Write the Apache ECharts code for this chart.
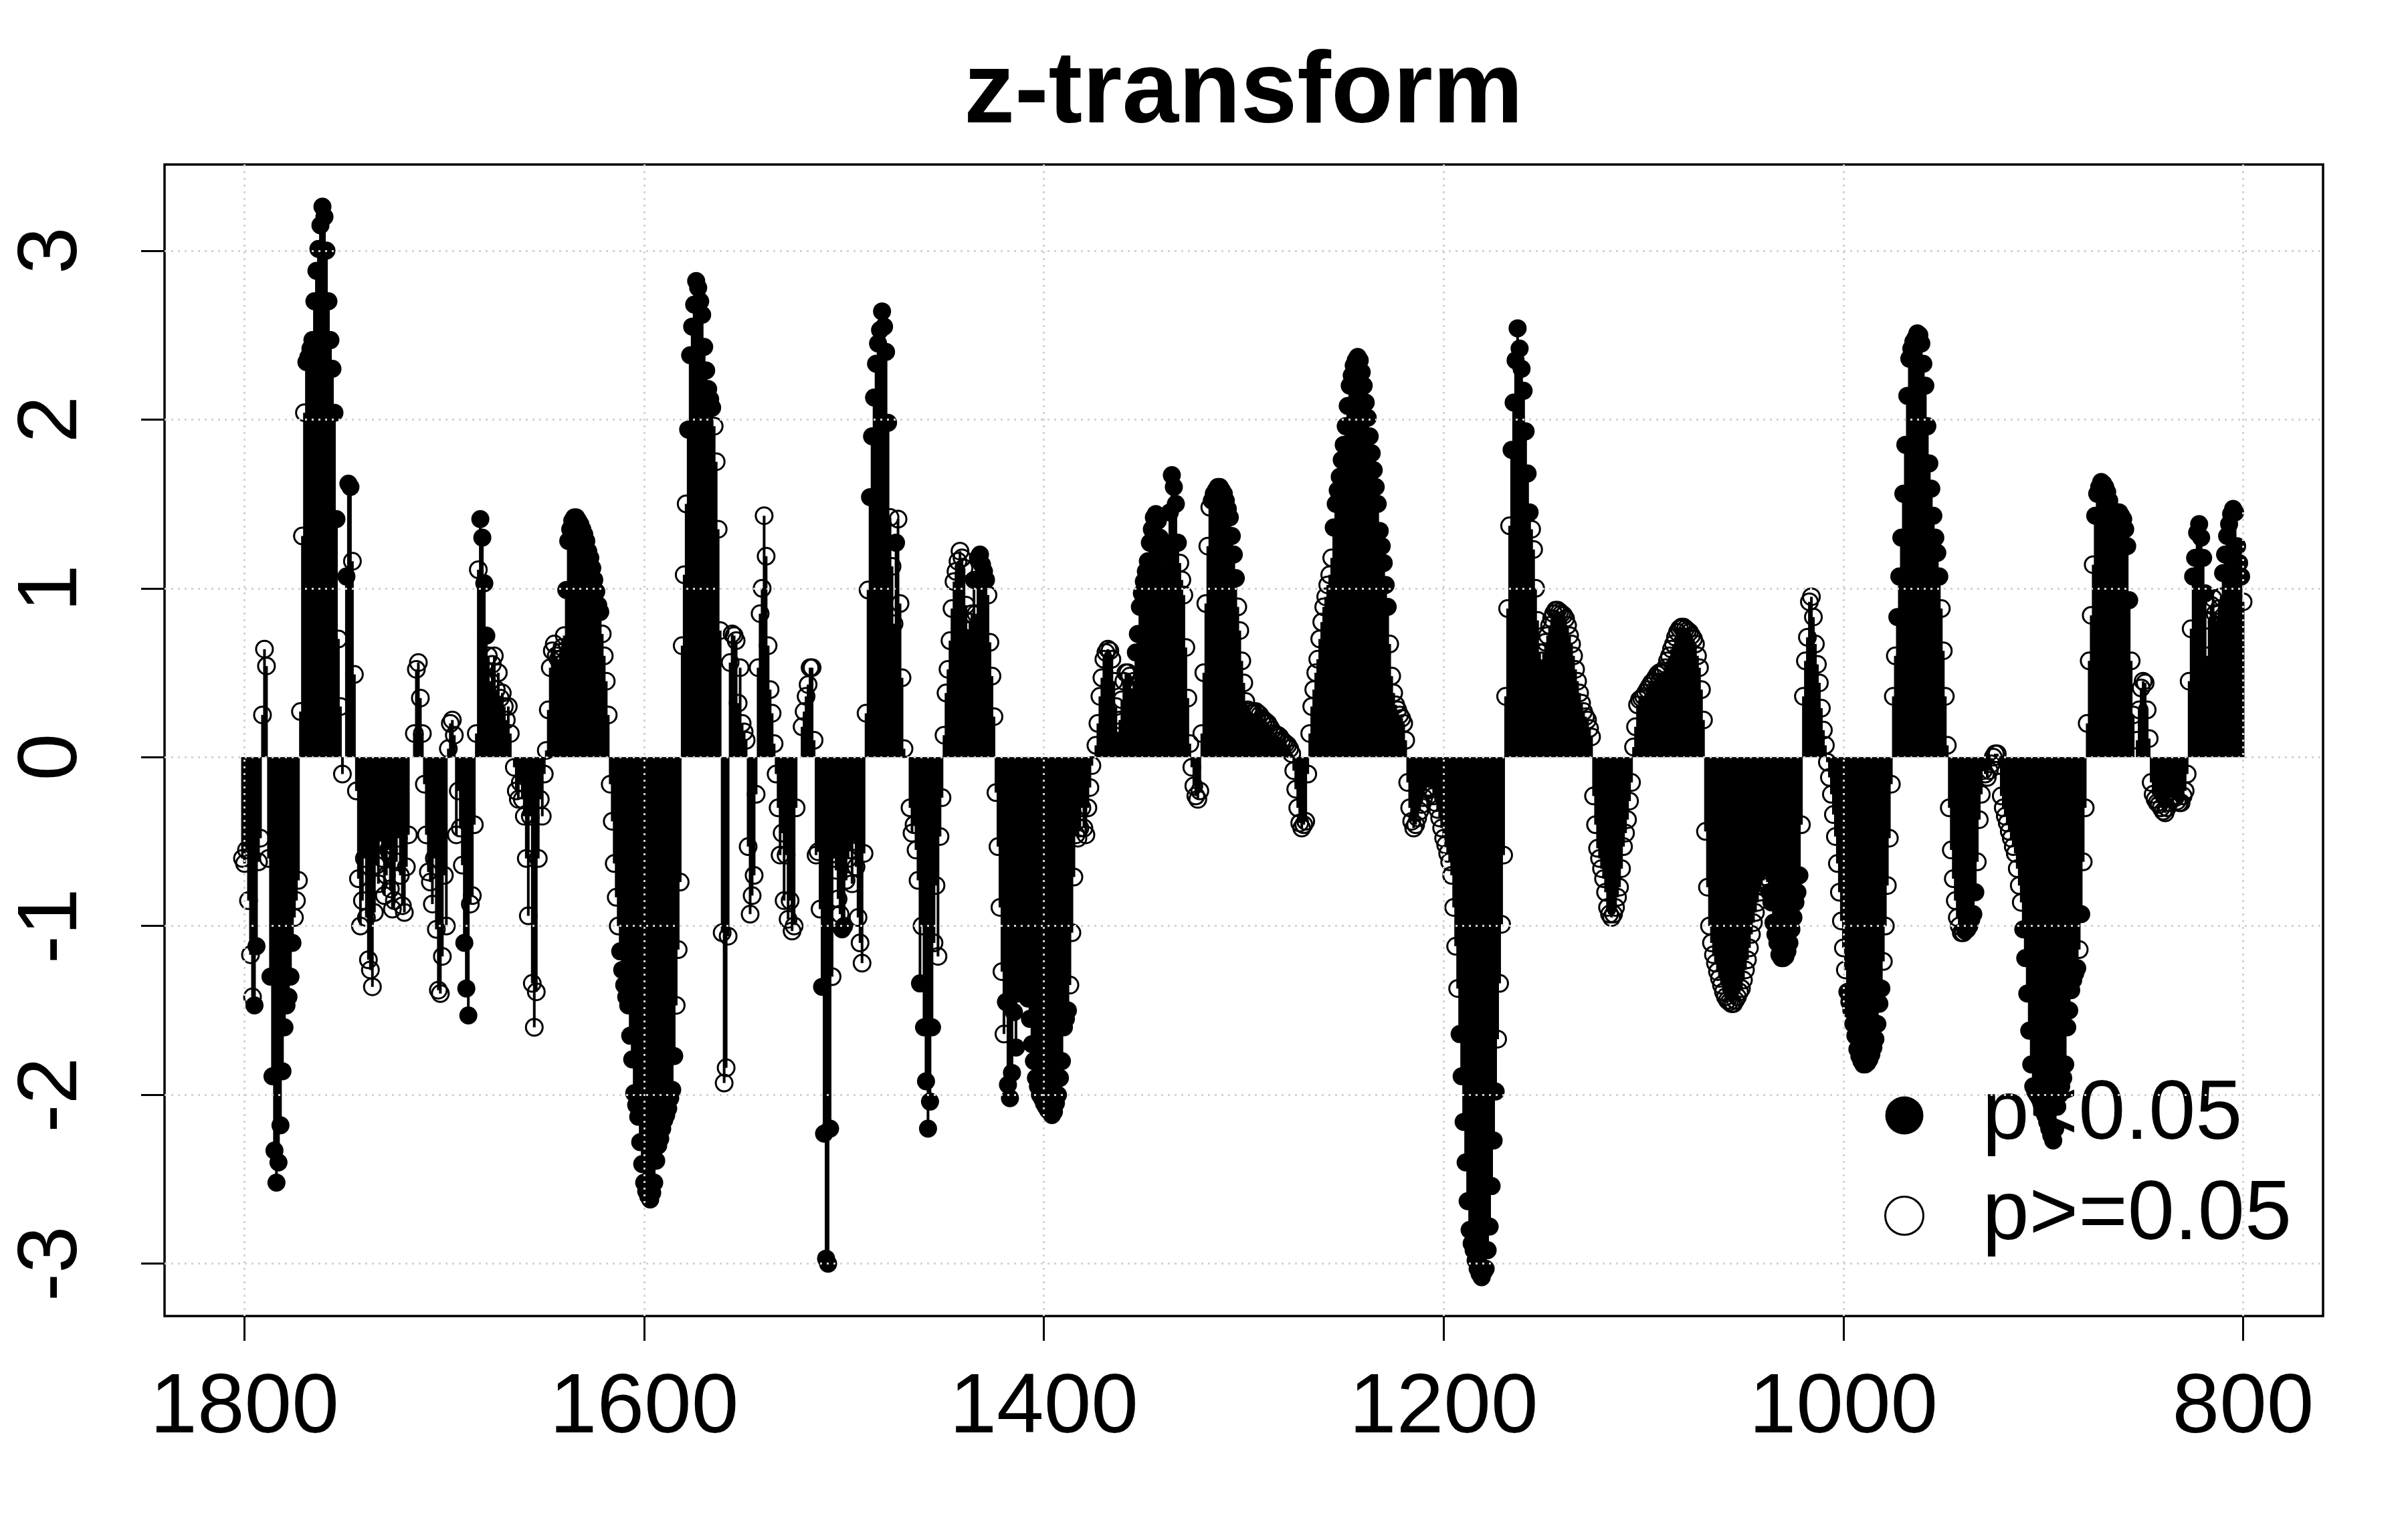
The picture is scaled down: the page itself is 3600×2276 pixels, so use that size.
<!DOCTYPE html>
<html>
<head>
<meta charset="utf-8">
<script src="https://cdn.jsdelivr.net/npm/echarts@6/dist/echarts.min.js"></script>
<style>
html,body{margin:0;padding:0;background:#fff;}
#chart{width:3600px;height:2276px;}
</style>
</head>
<body>
<div id="chart"></div>
<script>
// ---- data ----
const titleText = 'z-transform';
const firstYear = 1801;            // zValues[i] belongs to year firstYear - i
const zValues = [
 -0.60,-0.63,-0.55,-0.85,-1.17,-1.42,-1.47,-1.12,-0.62,-0.48, // 1801
 0.25,0.64,0.54,-0.60,-1.30,-1.89,-2.33,-2.52,-2.40,-2.18,    // 1791
 -1.86,-1.60,-1.47,-1.42,-1.30,-1.10,-0.95,-0.85,-0.73,0.27,  // 1781
 1.31,2.04,2.34,2.37,2.42,2.47,2.70,2.88,3.01,3.15,           // 1771
 3.26,3.20,3.00,2.70,2.47,2.30,2.04,1.41,0.70,0.30,           // 1761
 -0.10,null,1.07,1.62,1.60,1.16,0.49,-0.20,-0.72,-1.00,       // 1751
 -0.85,-0.60,-0.95,-1.20,-1.26,-1.36,-0.92,-0.64,-0.75,-0.50, // 1741
 -0.60,-0.82,-0.70,-0.55,-0.78,-0.90,-0.85,-0.62,-0.48,-0.70, // 1731
 -0.88,-0.92,-0.65,-0.46,null,null,0.14,0.52,0.56,0.35,       // 1721
 0.14,-0.16,-0.46,-0.68,-0.74,-0.87,-0.60,-1.02,-1.38,-1.40,  // 1711
 -1.18,-0.70,-1.00,0.05,0.20,0.22,0.13,-0.46,-0.20,-0.42,     // 1701
 -0.64,-1.10,-1.37,-1.53,-0.87,-0.82,-0.40,0.14,1.11,1.41,    // 1691
 1.30,1.03,0.72,0.60,0.45,0.55,0.60,0.40,0.50,0.35,           // 1681
 0.38,0.30,0.22,0.30,0.14,null,-0.06,-0.20,-0.25,-0.15,       // 1671
 -0.25,-0.35,-0.60,-0.94,-0.35,-1.34,-1.60,-1.39,-0.60,-0.25, // 1661
 -0.35,-0.10,0.04,0.28,0.53,0.63,0.67,0.60,0.58,0.62,         // 1651
 0.65,0.72,0.99,1.28,1.35,1.40,1.42,1.42,1.40,1.38,           // 1641
 1.35,1.32,1.28,1.22,1.18,1.12,1.05,0.98,0.90,0.86,           // 1631
 0.73,0.60,0.45,0.25,-0.16,-0.38,-0.63,-0.83,-1.00,-1.15,     // 1621
 -1.26,-1.35,-1.42,-1.47,-1.65,-1.79,-1.99,-2.06,-2.13,-2.28, // 1611
 -2.41,-2.52,-2.57,-2.60,-2.62,-2.58,-2.52,-2.39,-2.30,-2.26, // 1601
 -2.20,-2.15,-2.12,-2.08,-2.02,-1.97,-1.77,-1.47,-1.14,-0.74, // 1591
 0.66,1.08,1.50,1.94,2.38,2.55,2.68,2.82,2.78,2.70,           // 1581
 2.62,2.43,2.29,2.18,2.12,2.07,1.96,1.75,1.35,0.75,           // 1571
 -1.04,-1.93,-1.84,-1.06,0.56,0.73,0.72,0.69,0.32,0.53,       // 1561
 0.20,0.15,0.10,-0.53,-0.93,-0.82,-0.70,-0.22,0.53,0.85,      // 1551
 1.00,1.43,1.19,0.66,0.40,0.26,0.08,-0.10,-0.30,-0.58,        // 1541
 -0.45,-0.85,-0.58,-0.96,-0.85,-1.03,-1.00,-0.30,null,null,   // 1531
 0.18,0.27,0.36,0.43,0.53,0.53,0.10,-0.58,-0.56,-0.90,        // 1521
 -1.36,-2.23,-2.97,-3.00,-2.20,-1.30,-0.60,-0.67,-0.84,-0.93, // 1511
 -1.02,-1.00,-0.73,-0.60,-0.55,-0.75,-0.50,-0.65,-0.95,-1.10, // 1501
 -1.22,-0.57,0.26,0.99,1.54,1.90,2.13,2.33,2.45,2.53,         // 1491
 2.64,2.55,2.40,1.98,1.42,1.13,0.79,1.27,1.41,0.91,           // 1481
 0.47,0.05,null,null,-0.30,-0.45,-0.40,-0.55,-0.73,-1.34,     // 1471
 -1.00,-1.60,-1.92,-2.20,-2.04,-1.60,-1.10,-0.76,-1.18,-0.47, // 1461
 -0.24,0.13,0.38,0.52,0.69,0.88,1.04,1.10,1.16,1.22,          // 1451
 1.18,1.12,0.90,0.75,0.80,0.85,1.05,0.85,1.18,1.20,           // 1441
 1.14,1.10,1.05,0.96,0.68,0.48,0.24,-0.21,-0.53,-0.89,        // 1431
 -1.27,-1.64,-1.45,-1.94,-2.02,-1.87,-1.51,-1.72,-1.40,-1.35, // 1421
 -1.30,-1.36,-1.38,-1.43,-1.55,-1.70,-1.80,-1.90,-1.95,-2.00, // 1411
 -2.02,-2.05,-2.07,-2.09,-2.10,-2.12,-2.10,-2.05,-2.00,-1.90, // 1401
 -1.80,-1.60,-1.55,-1.50,-1.35,-1.04,-0.71,-0.46,-0.48,-0.42, // 1391
 -0.30,-0.42,-0.46,-0.30,-0.18,-0.05,null,0.07,0.20,0.36,     // 1381
 0.47,0.58,0.62,0.64,0.63,0.58,0.45,0.30,0.15,0.22,           // 1371
 0.34,0.45,0.50,0.50,0.48,0.40,0.45,0.62,0.73,0.89,           // 1361
 0.97,1.04,1.10,1.16,1.27,1.35,1.42,1.44,1.40,1.30,           // 1351
 1.20,1.08,1.10,1.25,1.45,1.67,1.60,1.50,1.27,1.15,           // 1341
 1.05,0.96,0.65,0.35,0.08,-0.06,-0.17,-0.23,-0.25,-0.20,      // 1331
 0.14,0.50,0.91,1.25,1.48,1.52,1.56,1.58,1.60,1.60,           // 1321
 1.58,1.56,1.52,1.47,1.42,1.31,1.20,1.06,0.89,0.75,           // 1311
 0.57,0.44,0.33,0.28,0.27,0.26,0.26,0.27,0.26,0.25,           // 1301
 0.23,0.22,0.21,0.20,0.18,0.16,0.14,0.13,0.13,0.12,           // 1291
 0.10,0.09,0.08,0.07,0.05,0.02,-0.08,-0.19,-0.30,-0.39,       // 1281
 -0.42,-0.40,-0.38,-0.10,0.14,0.30,0.40,0.50,0.58,0.70,       // 1271
 0.80,0.89,0.95,1.02,1.08,1.18,1.36,1.50,1.58,1.66,           // 1261
 1.76,1.85,1.96,2.08,2.20,2.26,2.32,2.35,2.37,2.35,           // 1251
 2.28,2.20,2.10,2.01,1.90,1.80,1.70,1.60,1.50,1.34,           // 1241
 1.25,1.15,1.02,0.89,0.67,0.48,0.38,0.31,0.28,0.25,           // 1231
 0.23,0.20,0.10,-0.15,-0.30,-0.38,-0.42,-0.40,-0.36,-0.32,    // 1221
 -0.28,-0.24,-0.20,-0.18,-0.18,-0.19,-0.23,-0.27,-0.31,-0.36, // 1211
 -0.42,-0.48,-0.52,-0.57,-0.62,-0.70,-0.89,-1.12,-1.37,-1.64, // 1201
 -1.89,-2.16,-2.40,-2.63,-2.80,-2.88,-2.92,-2.98,-3.03,-3.06, // 1191
 -3.08,-3.05,-3.03,-2.92,-2.78,-2.54,-2.27,-1.98,-1.67,-1.34, // 1181
 -0.99,-0.58,0.36,0.88,1.37,1.82,2.10,2.35,2.54,2.42,         // 1171
 2.30,2.17,1.93,1.68,1.45,1.35,1.23,1.00,0.81,0.62,           // 1161
 0.57,0.62,0.68,0.72,0.78,0.82,0.85,0.87,0.87,0.86,           // 1151
 0.85,0.84,0.82,0.78,0.72,0.67,0.60,0.52,0.45,0.38,           // 1141
 0.32,0.27,0.24,0.22,0.17,0.12,-0.23,-0.40,-0.54,-0.60,       // 1131
 -0.66,-0.72,-0.80,-0.89,-0.93,-0.95,-0.93,-0.89,-0.83,-0.77, // 1121
 -0.66,-0.53,-0.45,-0.37,-0.26,-0.15,0.06,0.18,0.31,0.34,     // 1111
 0.35,0.36,0.38,0.40,0.42,0.44,0.45,0.47,0.49,0.50,           // 1101
 0.50,0.51,0.53,0.57,0.60,0.64,0.67,0.71,0.74,0.76,           // 1091
 0.77,0.77,0.76,0.75,0.74,0.72,0.70,0.67,0.60,0.53,           // 1081
 0.40,0.22,-0.44,-0.77,-1.00,-1.10,-1.17,-1.22,-1.27,-1.31,   // 1071
 -1.35,-1.39,-1.42,-1.44,-1.45,-1.46,-1.46,-1.44,-1.42,-1.39, // 1061
 -1.37,-1.32,-1.26,-1.20,-1.13,-1.05,-0.98,-0.92,-0.86,-0.80, // 1051
 -0.76,-0.73,-0.71,-0.74,-0.80,-0.86,-0.98,-1.05,-1.10,-1.17, // 1041
 -1.19,-1.19,-1.18,-1.15,-1.10,-1.02,-0.95,-0.86,-0.80,-0.70, // 1031
 -0.40,0.36,0.57,0.71,0.92,0.95,0.83,0.67,0.55,0.44,          // 1021
 0.29,0.16,0.07,-0.03,-0.12,-0.22,-0.34,-0.47,-0.63,-0.80,    // 1011
 -0.97,-1.13,-1.26,-1.39,-1.45,-1.50,-1.58,-1.65,-1.73,-1.77, // 1001
 -1.80,-1.82,-1.82,-1.81,-1.79,-1.76,-1.72,-1.67,-1.58,-1.46, // 991
 -1.37,-1.21,-1.00,-0.76,-0.48,-0.16,0.36,0.60,0.83,1.07,     // 981
 1.30,1.56,1.85,2.14,2.36,2.42,2.46,2.48,2.51,2.50,           // 971
 2.45,2.33,2.20,1.96,1.74,1.59,1.43,1.30,1.21,1.07,           // 961
 0.88,0.63,0.36,0.07,-0.30,-0.55,-0.72,-0.85,-0.95,-1.00,     // 951
 -1.04,-1.04,-1.03,-1.02,-1.00,-0.96,-0.93,-0.80,-0.62,-0.37, // 941
 -0.22,-0.08,-0.10,-0.12,-0.08,-0.04,0.00,0.02,0.02,-0.05,    // 931
 -0.23,-0.30,-0.35,-0.39,-0.44,-0.48,-0.53,-0.57,-0.66,-0.76, // 921
 -0.86,-1.02,-1.19,-1.40,-1.62,-1.82,-1.95,-1.98,-2.00,-2.02, // 911
 -2.05,-2.08,-2.12,-2.16,-2.20,-2.24,-2.27,-2.20,-2.07,-2.00, // 901
 -1.95,-1.90,-1.82,-1.60,-1.50,-1.38,-1.32,-1.28,-1.25,-1.14, // 891
 -0.93,-0.62,-0.30,0.20,0.57,0.84,1.14,1.43,1.56,1.60,        // 881
 1.63,1.62,1.60,1.57,1.52,1.47,1.42,1.40,1.45,1.45,           // 871
 1.43,1.41,1.35,1.25,0.93,0.57,0.25,null,0.10,0.28,           // 861
 0.41,0.45,0.44,0.28,0.11,-0.15,-0.22,-0.25,-0.27,-0.28,      // 851
 -0.30,-0.32,-0.33,-0.30,-0.27,-0.24,-0.23,-0.24,-0.26,-0.27, // 841
 -0.27,-0.23,-0.20,-0.10,0.45,0.76,1.07,1.18,1.33,1.38,       // 831
 1.30,1.18,0.97,0.60,0.81,0.90,0.94,0.85,0.80,0.88,           // 821
 0.95,1.09,1.20,1.31,1.38,1.44,1.47,1.45,1.25,1.15,           // 811
 1.07,0.92                                                    // 801
];
// year spans (inclusive, from..to) whose points are drawn as p<0.05
const sigRanges = [
 [1795,1794],[1787,1776],[1769,1754],[1749,1747],[1690,1688],[1682,1679],
 [1639,1622],[1612,1585],[1578,1566],[1511,1507],[1501,1500],[1487,1478],
 [1474,1474],[1462,1462],[1460,1456],[1435,1435],[1433,1429],[1419,1388],
 [1354,1333],[1316,1304],[1255,1228],[1192,1174],[1166,1157],[1037,1022],
 [998,981],[973,952],[939,934],[910,883],[881,881],[874,857],[825,819],[810,801]
];
const xTicks = [1800, 1600, 1400, 1200, 1000, 800];
const yTicks = [-3, -2, -1, 0, 1, 2, 3];
const legendNames = ['p<0.05', 'p>=0.05'];

// ---- build series data ----
function isSig(yr) { return sigRanges.some(r => yr <= r[0] && yr >= r[1]); }
const barData = [], sigPts = [], nsPts = [];
zValues.forEach((v, i) => {
  if (v === null) return;
  const yr = firstYear - i;
  barData.push([yr, v]);
  (isSig(yr) ? sigPts : nsPts).push([yr, v]);
});

const FONT = '"Liberation Sans", Arial, Helvetica, sans-serif';
const chart = echarts.init(document.getElementById('chart'), null, {width: 3600, height: 2276, renderer: 'canvas'});

const gridLine = {show: true, lineStyle: {color: '#d3d3d3', width: 3, type: [3, 7]}};

chart.setOption({
  animation: false,
  backgroundColor: '#ffffff',
  title: {
    text: titleText,
    left: 1441, top: 65, padding: 0,
    textStyle: {fontFamily: FONT, fontSize: 152, fontWeight: 'bold', color: '#000', lineHeight: 152}
  },
  grid: {
    left: 246, right: 127, top: 246, bottom: 308,
    show: true, borderColor: '#000', borderWidth: 3.5, backgroundColor: 'transparent'
  },
  legend: {
    data: [
      {name: legendNames[0], itemStyle: {color: '#000', borderWidth: 0, opacity: 1}},
      {name: legendNames[1], itemStyle: {color: 'rgba(0,0,0,0)', borderColor: '#000', borderWidth: 3, opacity: 1}}
    ],
    orient: 'vertical', left: 2817, top: 1605, padding: 0,
    itemWidth: 223, itemHeight: 57, itemGap: 24, icon: 'circle', symbolKeepAspect: true,
    selectedMode: false,
    textStyle: {fontFamily: FONT, fontSize: 126, color: '#000', lineHeight: 126}
  },
  xAxis: {
    type: 'value', inverse: true, min: 760, max: 1840, z: 5, position: 'bottom',
    axisLine: {show: false, onZero: false},
    axisTick: {show: true, length: 37, lineStyle: {color: '#000', width: 3}, customValues: xTicks},
    axisLabel: {customValues: xTicks, formatter: v => String(v), fontFamily: FONT, fontSize: 127,
      color: '#000', margin: 75, lineHeight: 127},
    splitLine: gridLine
  },
  yAxis: {
    type: 'value', min: -3.31, max: 3.51, z: 5, position: 'left',
    axisLine: {show: false, onZero: false},
    axisTick: {show: true, length: 35, lineStyle: {color: '#000', width: 3}, customValues: yTicks},
    axisLabel: {customValues: yTicks, formatter: v => String(v), rotate: 90, fontFamily: FONT, fontSize: 127,
      color: '#000', margin: 104, lineHeight: 127},
    splitLine: gridLine
  },
  series: [
    {type: 'bar', name: 'z', data: barData, barWidth: 4, itemStyle: {color: '#000', opacity: 1}, silent: true, z: 2},
    {type: 'scatter', name: legendNames[0], data: sigPts, symbol: 'circle', symbolSize: 27,
      itemStyle: {color: '#000', opacity: 1}, silent: true, z: 3},
    {type: 'scatter', name: legendNames[1], data: nsPts, symbol: 'circle', symbolSize: 25,
      itemStyle: {color: 'rgba(0,0,0,0)', borderColor: '#000', borderWidth: 3, opacity: 1}, silent: true, z: 3}
  ]
});
</script>
</body>
</html>
